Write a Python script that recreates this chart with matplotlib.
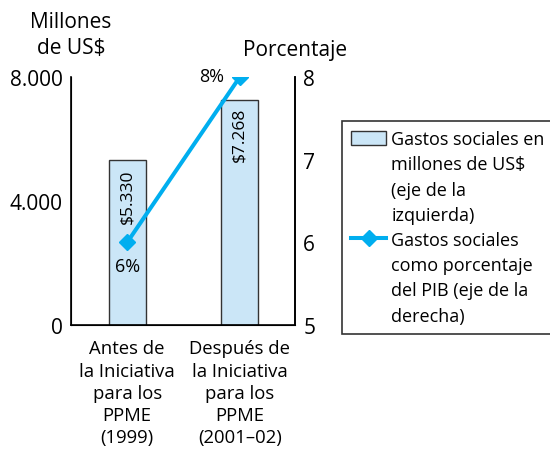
import matplotlib.pyplot as plt
from matplotlib.lines import Line2D
from matplotlib.patches import Patch

plt.rcParams['font.family'] = ['Open Sans', 'DejaVu Sans']

categories = ['Antes de\nla Iniciativa\npara los\nPPME\n(1999)',
              'Después de\nla Iniciativa\npara los\nPPME\n(2001–02)']
gasto_musd = [5330, 7268]
gasto_pct = [6, 8]
bar_labels = ['$5.330', '$7.268']
pct_labels = ['6%', '8%']
left_ticks = [0, 4000, 8000]
left_ticklabels = ['0', '4.000', '8.000']
right_ticks = [5, 6, 7, 8]
legend_bar = ['Gastos sociales en', 'millones de US$', '(eje de la', 'izquierda)']
legend_line = ['Gastos sociales', 'como porcentaje', 'del PIB (eje de la', 'derecha)']

bar_color = '#cbe6f7'
line_color = '#00aeef'

fig = plt.figure(figsize=(5.5, 4.52), dpi=100)
ax = fig.add_axes([0.129, 0.279, 0.407, 0.548])
x = list(range(len(categories)))

ax.bar(x, gasto_musd, width=0.33, color=bar_color, edgecolor='#333333', linewidth=1)
ax.set_xlim(-0.5, 1.49)
ax.set_ylim(0, 8000)
ax.set_yticks(left_ticks)
ax.set_yticklabels(left_ticklabels, fontsize=15)
ax.set_xticks(x)
ax.set_xticklabels(categories, fontsize=13.3, linespacing=1.3)
ax.tick_params(length=0, pad=6)
ax.tick_params(axis='x', pad=10.5)
ax.spines['top'].set_visible(False)
for s in ['left', 'bottom', 'right']:
    ax.spines[s].set_linewidth(1.2)

# valores dentro de las barras
label_y = [4160, 6160]
for xi, lab, ly in zip(x, bar_labels, label_y):
    ax.text(xi, ly, lab, rotation=90, ha='center', va='center', fontsize=12.5)

ax2 = ax.twinx()
ax2.plot(x, gasto_pct, color=line_color, linewidth=2.9, marker='D', markersize=8.5)
ax2.set_ylim(5, 8)
ax2.set_yticks(right_ticks)
ax2.set_yticklabels([str(t) for t in right_ticks], fontsize=15)
ax2.tick_params(length=0, pad=6)
ax2.spines['top'].set_visible(False)
ax2.spines['right'].set_linewidth(1.2)

ax2.annotate(pct_labels[0], (x[0], gasto_pct[0]), xytext=(0, -17),
             textcoords='offset points', ha='center', va='center', fontsize=13)
ax2.annotate(pct_labels[1], (x[1], gasto_pct[1]), xytext=(-20, 1),
             textcoords='offset points', ha='center', va='center', fontsize=13)

fig.text(0.129, 0.922, 'Millones\nde US$', ha='center', va='center', fontsize=15, linespacing=1.3)
fig.text(0.536, 0.889, 'Porcentaje', ha='center', va='center', fontsize=15)

blank = Line2D([], [], linestyle='none')
handles = ([Patch(facecolor=bar_color, edgecolor='#333333', linewidth=1)] + [blank] * 3
           + [Line2D([0], [0], color=line_color, linewidth=2.9, marker='D', markersize=8.5)]
           + [blank] * 3)
labels = legend_bar + legend_line
leg = fig.legend(handles, labels, loc='upper left', bbox_to_anchor=(0.622, 0.73),
                 fontsize=13, frameon=True, fancybox=False, edgecolor='black',
                 handlelength=1.95, handleheight=0.8, labelspacing=0.4,
                 borderpad=0.5, handletextpad=0.28, borderaxespad=0)
leg.get_frame().set_linewidth(1.2)

fig.savefig('out.png', dpi=100)
